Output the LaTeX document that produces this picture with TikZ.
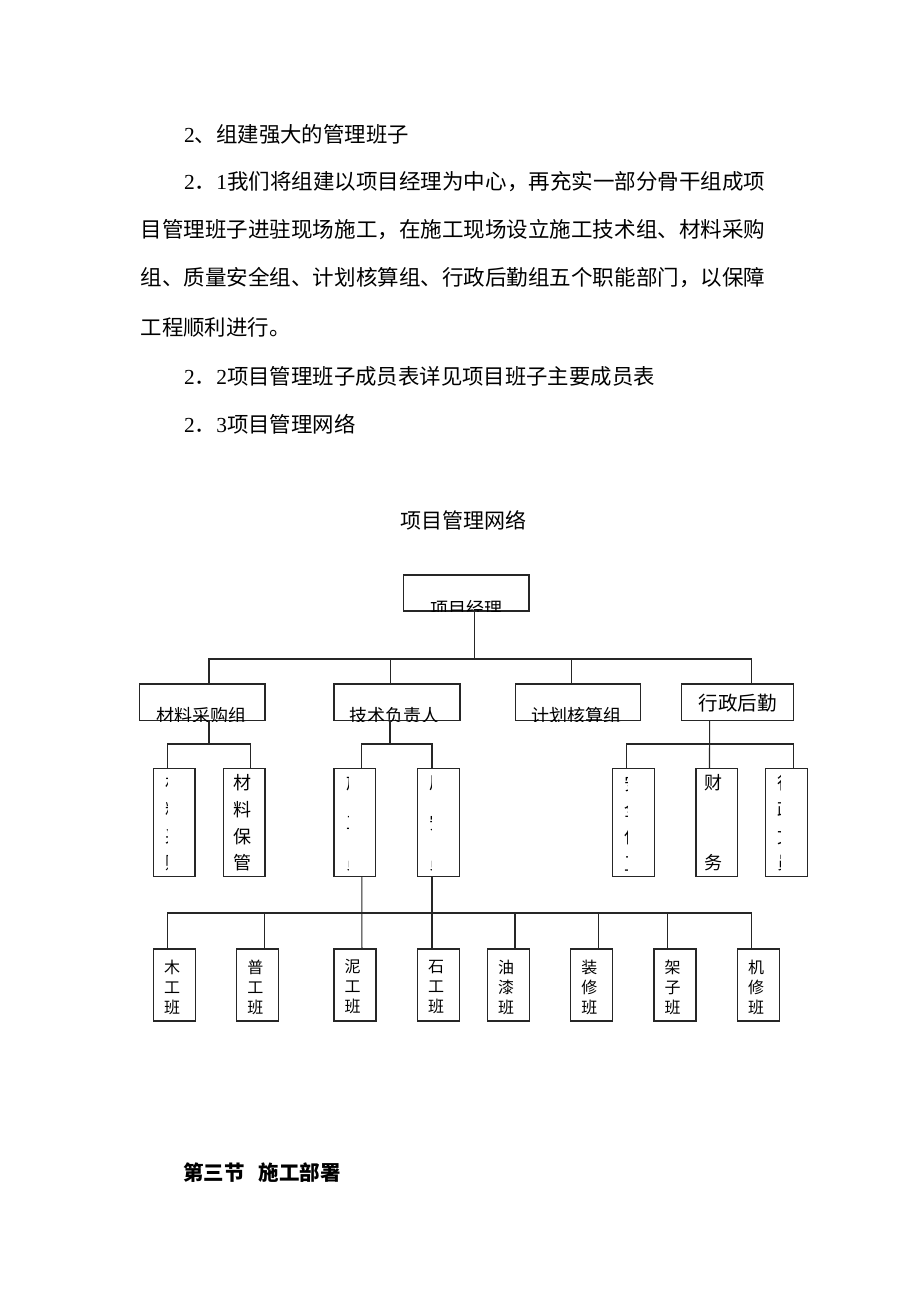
\documentclass[tikz,border=0pt]{standalone}
\usepackage{fontspec}
\usepackage{graphicx}
\setmainfont{Noto Sans CJK SC}
\newfontfamily\tnr{Liberation Serif}
\newcommand{\jline}[2]{\resizebox{#1}{\height}{#2}}
\begin{document}
\begin{tikzpicture}[x=1pt,y=-1pt]
\tikzset{
 box/.style={draw=black!85, line width=1.1pt, rectangle, inner sep=0pt, outer sep=0pt, anchor=north west},
 conn/.style={draw=black!85, line width=1.1pt},
 body/.style={anchor=west, inner sep=0pt, font=\fontsize{21.4}{26}\selectfont},
 htext/.style={inner sep=0pt, font=\fontsize{18}{22}\selectfont},
 vtext/.style={inner sep=0pt, align=center, font=\fontsize{18}{26.7}\selectfont},
 btext/.style={inner sep=0pt, align=center, font=\fontsize{16}{20}\selectfont},
}
\fill[white] (0,0) rectangle (920,1302);
\useasboundingbox (0,0) rectangle (920,1302);

% body text
\node[body] (l1) at (184,134) {{\tnr 2}、组建强大的管理班子};
\node[body] (l2) at (184,182) {\jline{581pt}{{\tnr 2}．{\tnr 1}我们将组建以项目经理为中心，再充实一部分骨干组成项}};
\node[body] (l3) at (140.5,230) {\jline{624.5pt}{目管理班子进驻现场施工，在施工现场设立施工技术组、材料采购}};
\node[body] (l4) at (140.5,278) {\jline{624.5pt}{组、质量安全组、计划核算组、行政后勤组五个职能部门，以保障}};
\node[body] (l5) at (140.5,327) {工程顺利进行。};
\node[body] (l6) at (184,376) {{\tnr 2}．{\tnr 2}项目管理班子成员表详见项目班子主要成员表};
\node[body] (l7) at (184,424) {{\tnr 2}．{\tnr 3}项目管理网络};

\node[inner sep=0pt, font=\fontsize{21}{24}\selectfont] (title) at (463.7,520.7) {项目管理网络};

\node[inner sep=0pt, anchor=west, font=\fontsize{20.5}{24}\selectfont\bfseries] (sec) at (183,1172.7) {第三节\hspace{14pt}施工部署};

% level 1
\node[box, minimum width=125.5pt, minimum height=36pt] (top) at (403.5,575) {};
% level 2
\node[box, minimum width=125.5pt, minimum height=36.5pt] (cg) at (139.5,684) {};
\node[box, minimum width=126pt, minimum height=36.5pt] (js) at (334,684) {};
\node[box, minimum width=125pt, minimum height=36.5pt] (jh) at (515.7,684) {};
\node[box, minimum width=112pt, minimum height=36.5pt] (xz) at (681.7,684) {};
% level 3
\foreach \n/\x in {a1/153.3, a2/223.3, b1/334, b2/417.7, c1/612.7, c2/696, c3/765.7}
  \node[box, minimum width=41.7pt, minimum height=108.4pt] (\n) at (\x,768.3) {};
% level 4
\foreach \n/\x in {w1/153.3, w2/236.7, w3/334, w4/417.5, w5/487.3, w6/570.7, w7/654, w8/737.3}
  \node[box, minimum width=42pt, minimum height=72pt] (\n) at (\x,949) {};

% clipped texts of the upper boxes
\begin{scope}
\clip ([shift={(0.6pt,-0.6pt)}]top.south west) rectangle ([shift={(-0.6pt,0.6pt)}]top.north east);
\node[htext] (ttop) at (466.5,608.5) {项目经理};
\end{scope}
\begin{scope}
\clip ([shift={(0.6pt,-0.6pt)}]cg.south west) rectangle ([shift={(-0.6pt,0.6pt)}]cg.north east);
\node[htext] (tcg) at (201.3,716) {材料采购组};
\end{scope}
\begin{scope}
\clip ([shift={(0.6pt,-0.6pt)}]js.south west) rectangle ([shift={(-0.6pt,0.6pt)}]js.north east);
\node[htext] (tjs) at (394,716) {技术负责人};
\end{scope}
\begin{scope}
\clip ([shift={(0.6pt,-0.6pt)}]jh.south west) rectangle ([shift={(-0.6pt,0.6pt)}]jh.north east);
\node[htext] (tjh) at (576.7,716) {计划核算组};
\end{scope}
\node[inner sep=0pt, font=\fontsize{19.5}{22}\selectfont] (txz) at (737.5,703) {行政后勤};

% vertical texts
\node[vtext] (ta2) at (242,823) {材\\料\\保\\管};
\node[vtext] (tc2) at (713,823) {财\\\mbox{}\\\mbox{}\\务};
\begin{scope}
\clip ([xshift=9.5pt]a1.north west) rectangle ([xshift=14pt]a1.south west);
\node[vtext] (ta1) at (174.2,823) {材\\料\\采\\购};
\end{scope}
\begin{scope}
\clip ([xshift=11pt]b1.north west) rectangle ([xshift=14.5pt]b1.south west);
\node[vtext, font=\fontsize{18}{40}\selectfont] (tb1) at (355.4,823) {施\\工\\员};
\end{scope}
\begin{scope}
\clip ([xshift=10pt]b2.north west) rectangle ([xshift=14pt]b2.south west);
\node[vtext, font=\fontsize{18}{40}\selectfont] (tb2) at (438.9,823) {质\\安\\员};
\end{scope}
\begin{scope}
\clip ([xshift=10.3pt]c1.north west) rectangle ([xshift=14.3pt]c1.south west);
\node[vtext] (tc1) at (633.5,823) {安\\全\\保\\卫};
\end{scope}
\begin{scope}
\clip ([xshift=9.3pt]c3.north west) rectangle ([xshift=14.3pt]c3.south west);
\node[vtext] (tc3) at (786.5,823) {行\\政\\文\\员};
\end{scope}

% bottom texts
\foreach \n/\t in {w1/木\\工\\班, w2/普\\工\\班, w3/泥\\工\\班, w4/石\\工\\班, w5/油\\漆\\班, w6/装\\修\\班, w7/架\\子\\班, w8/机\\修\\班}
  \node[btext] (t\n) at ([xshift=-2.3pt,yshift=-38pt]\n.north) {\t};

% connectors
\coordinate (busA) at (0,659);
\coordinate (busB) at (0,744);
\coordinate (busC) at (0,913);
\draw[conn] ([xshift=8pt]top.south) -- ([xshift=8pt]top.south |- busA);
\draw[conn] ([xshift=6.75pt]cg.north) |- ([xshift=14.1pt]xz.north |- busA) -- ([xshift=14.1pt]xz.north);
\draw[conn] ([xshift=-6.5pt]js.north) -- ([xshift=-6.5pt]js.north |- busA);
\draw[conn] ([xshift=-6.6pt]jh.north) -- ([xshift=-6.6pt]jh.north |- busA);

\draw[conn] ([xshift=6.75pt]cg.south) -- ([xshift=6.75pt]cg.south |- busB);
\draw[conn] ([xshift=-6.85pt]a1.north) |- ([xshift=6.55pt]a2.north |- busB) -- ([xshift=6.55pt]a2.north);
\draw[conn] ([xshift=-7pt]js.south) -- ([xshift=-7pt]js.south |- busB);
\draw[conn] ([xshift=6.95pt]b1.north) |- ([xshift=-6.55pt]b2.north |- busB) -- ([xshift=-6.55pt]b2.north);
\draw[conn] ([xshift=-28.1pt]xz.south) -- ([xshift=-7.35pt]c2.north);
\draw[conn] ([xshift=-7.5pt]c1.north) |- ([xshift=6.8pt]c3.north |- busB) -- ([xshift=6.8pt]c3.north);

\draw[conn] ([xshift=6.95pt]b1.south) -- ([xshift=6.95pt]w3.north);
\draw[conn] ([xshift=-6.55pt]b2.south) -- ([xshift=-6.55pt]b2.south |- w4.north);
\draw[conn] ([xshift=-6.85pt]w1.north) |- ([xshift=-6.6pt]w8.north |- busC) -- ([xshift=-6.6pt]w8.north);
\draw[conn] ([xshift=7.15pt]w2.north) -- ([xshift=7.15pt]w2.north |- busC);
\draw[conn] ([xshift=6.7pt]w5.north) -- ([xshift=6.7pt]w5.north |- busC);
\draw[conn] ([xshift=6.6pt]w6.north) -- ([xshift=6.6pt]w6.north |- busC);
\draw[conn] ([xshift=-7.3pt]w7.north) -- ([xshift=-7.3pt]w7.north |- busC);
\end{tikzpicture}
\end{document}
